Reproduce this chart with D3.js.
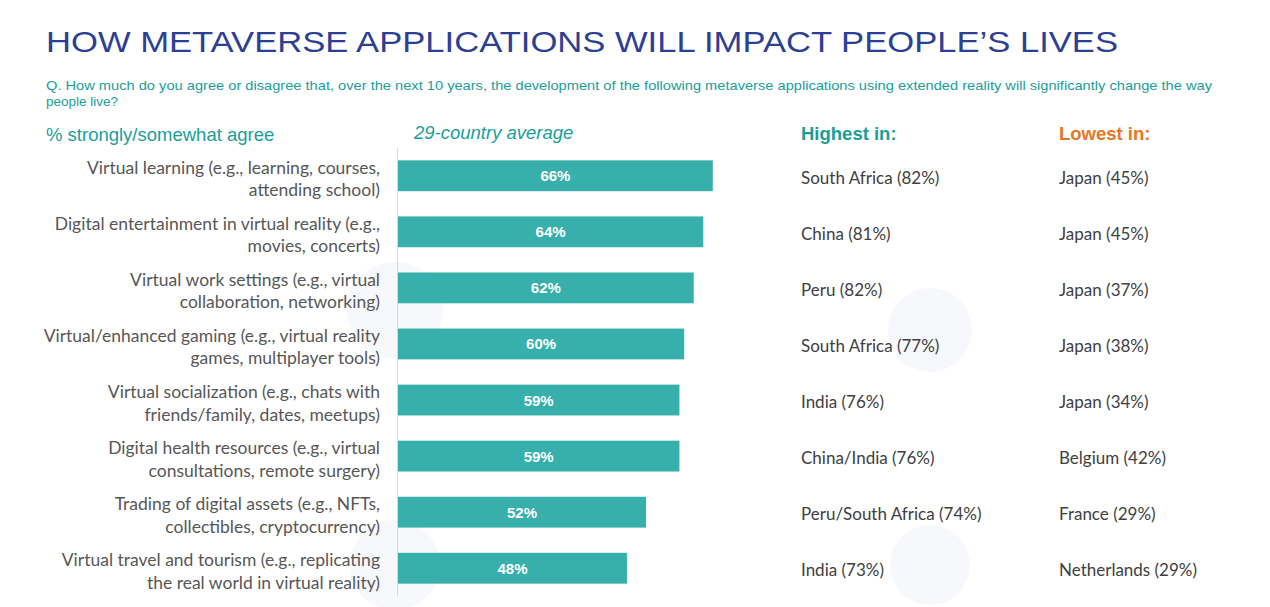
<!DOCTYPE html>
<html>
<head>
<meta charset="utf-8">
<script src="https://cdn.jsdelivr.net/npm/d3@7"></script>
<style>
  html, body { margin: 0; padding: 0; background: #fff; }
  svg { display: block; }
</style>
</head>
<body>
<div id="chart"></div>
<script>
// Chart data
const categories = [
    ["Virtual learning (e.g., learning, courses,", "attending school)"],
    ["Digital entertainment in virtual reality (e.g.,", "movies, concerts)"],
    ["Virtual work settings (e.g., virtual", "collaboration, networking)"],
    ["Virtual/enhanced gaming (e.g., virtual reality", "games, multiplayer tools)"],
    ["Virtual socialization (e.g., chats with", "friends/family, dates, meetups)"],
    ["Digital health resources (e.g., virtual", "consultations, remote surgery)"],
    ["Trading of digital assets (e.g., NFTs,", "collectibles, cryptocurrency)"],
    ["Virtual travel and tourism (e.g., replicating", "the real world in virtual reality)"]
];
const averages = [66, 64, 62, 60, 59, 59, 52, 48];
const highest = ["South Africa (82%)", "China (81%)", "Peru (82%)", "South Africa (77%)",
    "India (76%)", "China/India (76%)", "Peru/South Africa (74%)", "India (73%)"];
const lowest = ["Japan (45%)", "Japan (45%)", "Japan (37%)", "Japan (38%)",
    "Japan (34%)", "Belgium (42%)", "France (29%)", "Netherlands (29%)"];

const width = 1270, height = 607;
const teal = "#1a9e9a", barColor = "#37b0ac", orange = "#e87722", navy = "#2c3f94", gray = "#575757";

const svg = d3.select("#chart").append("svg")
    .attr("width", width)
    .attr("height", height);

// faint watermark shapes in the background
const marks = svg.append("g").attr("fill", "#f7f8fc");
marks.append("circle").attr("cx", 930).attr("cy", 330).attr("r", 42);
marks.append("circle").attr("cx", 395).attr("cy", 310).attr("r", 48);
marks.append("circle").attr("cx", 395).attr("cy", 565).attr("r", 45);
marks.append("circle").attr("cx", 930).attr("cy", 565).attr("r", 40);

// Title block
svg.append("text")
    .attr("x", 46).attr("y", 52)
    .attr("textLength", 1072).attr("lengthAdjust", "spacingAndGlyphs")
    .style("font", "30px 'Liberation Sans', Arial, sans-serif")
    .style("fill", navy)
    .text("HOW METAVERSE APPLICATIONS WILL IMPACT PEOPLE’S LIVES");

const sub = svg.append("g")
    .style("font", "13.5px 'Liberation Sans', Arial, sans-serif")
    .style("fill", teal);
sub.append("text").attr("x", 46).attr("y", 90)
    .attr("textLength", 1166).attr("lengthAdjust", "spacingAndGlyphs")
    .text("Q. How much do you agree or disagree that, over the next 10 years, the development of the following metaverse applications using extended reality will significantly change the way");
sub.append("text").attr("x", 46).attr("y", 106).text("people live?");

// Column headers
svg.append("text").attr("x", 46).attr("y", 141)
    .style("font", "18.5px 'Liberation Sans', Arial, sans-serif").style("fill", teal)
    .text("% strongly/somewhat agree");
svg.append("text").attr("x", 414).attr("y", 139)
    .style("font", "italic 18.5px 'Liberation Sans', Arial, sans-serif").style("fill", teal)
    .text("29-country average");
svg.append("text").attr("x", 801).attr("y", 140)
    .style("font", "bold 18.5px 'Liberation Sans', Arial, sans-serif").style("fill", teal)
    .text("Highest in:");
svg.append("text").attr("x", 1059).attr("y", 140)
    .style("font", "bold 18.5px 'Liberation Sans', Arial, sans-serif").style("fill", orange)
    .text("Lowest in:");

// Scales
const x = d3.scaleLinear().domain([0, 100]).range([398, 875]);
const y = d3.scaleBand()
    .domain(d3.range(categories.length))
    .range([148, 596])
    .paddingInner(0.45)
    .paddingOuter(0.22);

// Axis line
svg.append("line")
    .attr("x1", 397.5).attr("x2", 397.5)
    .attr("y1", 148).attr("y2", 596)
    .attr("stroke", "#d9d9d9").attr("stroke-width", 1);

// Bars
svg.append("g")
    .selectAll("rect")
    .data(averages)
    .join("rect")
    .attr("x", x(0))
    .attr("y", (d, i) => y(i))
    .attr("width", d => x(d) - x(0))
    .attr("height", y.bandwidth())
    .attr("fill", barColor);

// Bar value labels
svg.append("g")
    .style("font", "bold 15px 'Liberation Sans', Arial, sans-serif")
    .style("fill", "#ffffff")
    .attr("text-anchor", "middle")
    .selectAll("text")
    .data(averages)
    .join("text")
    .attr("x", d => (x(0) + x(d)) / 2)
    .attr("y", (d, i) => y(i) + y.bandwidth() / 2 + 5.5)
    .text(d => d + "%");

// Category labels (two lines, right aligned)
const cat = svg.append("g")
    .style("font", "17.5px Lato, 'Open Sans', sans-serif")
    .style("fill", gray)
    .attr("text-anchor", "end")
    .selectAll("text")
    .data(categories)
    .join("text")
    .attr("x", 380)
    .attr("y", (d, i) => y(i) + y.bandwidth() / 2 - 2);
cat.selectAll("tspan")
    .data(d => d)
    .join("tspan")
    .attr("x", 380)
    .attr("dy", (d, j) => j === 0 ? 0 : 22.5)
    .text(d => d);

// Highest / lowest columns
const side = svg.append("g")
    .style("font", "17px Lato, 'Open Sans', sans-serif")
    .style("fill", "#404040");
side.selectAll("text.hi")
    .data(highest)
    .join("text")
    .attr("class", "hi")
    .attr("x", 801)
    .attr("y", (d, i) => y(i) + y.bandwidth() / 2 + 8)
    .text(d => d);
side.selectAll("text.lo")
    .data(lowest)
    .join("text")
    .attr("class", "lo")
    .attr("x", 1059)
    .attr("y", (d, i) => y(i) + y.bandwidth() / 2 + 8)
    .text(d => d);
</script>
</body>
</html>
